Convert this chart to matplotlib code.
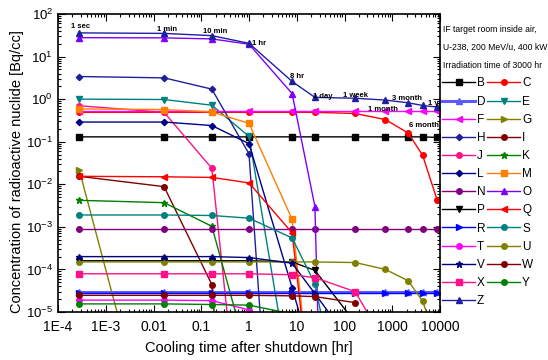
import numpy as np
import matplotlib.pyplot as plt
from matplotlib.ticker import LogLocator, NullFormatter, FixedLocator, FixedFormatter

plt.rcParams['font.family'] = ['Liberation Sans', 'DejaVu Sans']
plt.rcParams['mathtext.default'] = 'regular'

nan = np.nan

# cooling times [hr]: 1 sec, 1 min, 10 min, 1 hr, 8 hr, 1 day, 1 week, 1 month, 3 month, 6 month, 1 yr
hours = np.array([1 / 3600, 1 / 60, 1 / 6, 1, 8, 24, 168, 720, 2160, 4320, 8760])
time_labels = ["1 sec", "1 min", "10 min", "1 hr", "8 hr", "1 day", "1 week",
               "1 month", "3 month", "6 month", "1 yr"]

# concentration [Bq/cc] per nuclide
B = [0.13, 0.13, 0.13, 0.13, 0.13, 0.13, 0.13, 0.13, 0.13, 0.13, 0.126]
C = [0.49, 0.49, 0.49, 0.49, 0.49, 0.49, 0.46, 0.33, 0.16, 0.048, 0.0042]
D = [2.9e-5] * 11
E = [1.0, 0.98, 0.72, 0.133, 1.2e-7, nan, nan, nan, nan, nan, nan]
F = [0.52] * 11
G = [0.022, 7e-10, nan, nan, nan, nan, nan, nan, nan, nan, nan]
H = [3.4, 3.16, 1.72, 0.052, 1.6e-16, nan, nan, nan, nan, nan, nan]
I = [0.0154, 8.8e-3, 4.4e-5, 1e-15, nan, nan, nan, nan, nan, nan, nan]
J = [0.7, 0.49, 0.0237, 1.3e-10, nan, nan, nan, nan, nan, nan, nan]
K = [4.2e-3, 3.7e-3, 1.03e-3, 7e-7, nan, nan, nan, nan, nan, nan, nan]
L = [0.29, 0.29, 0.24, 0.09, 3.7e-5, 5e-7, nan, nan, nan, nan, nan]
M = [0.59, 0.57, 0.5, 0.27, 1.5e-3, 1.7e-8, nan, nan, nan, nan, nan]
N = [8.7e-4] * 11
O = [27.8, 27.5, 26.0, 19.5, 1.35, 0.003, 1e-38, nan, nan, nan, nan]
P = [1.6e-4, 1.6e-4, 1.6e-4, 1.6e-4, 1.5e-4, 9.5e-5, 5.6e-6, nan, nan, nan, nan]
Q = [0.0154, 0.015, 0.0145, 0.0108, 7.2e-4, 1.3e-8, nan, nan, nan, nan, nan]
R = [2.75e-5] * 11
S = [1.9e-3, 1.9e-3, 1.85e-3, 1.6e-3, 5.5e-4, 4.6e-5, 1e-9, nan, nan, nan, nan]
T = [1.9e-5, 1.9e-5, 1.85e-5, 1.12e-5, 3e-6, nan, nan, nan, nan, nan, nan]
U = [1.5e-4, 1.5e-4, 1.5e-4, 1.5e-4, 1.5e-4, 1.5e-4, 1.45e-4, 1.0e-4, 5.4e-5, 1.8e-5, 1.9e-6]
V = [2e-4, 2e-4, 2e-4, 1.9e-4, 1.4e-4, 2.7e-5, 1.4e-6, nan, nan, nan, nan]
W = [2.46e-5, 2.46e-5, 2.46e-5, 2.46e-5, 2.4e-5, 2.3e-5, 1.66e-5, nan, nan, nan, nan]
X = [7.9e-5, 7.9e-5, 7.9e-5, 7.9e-5, 7.5e-5, 6.4e-5, 3e-5, 1.8e-6, nan, nan, nan]
Y = [1.55e-5, 1.55e-5, 1.5e-5, 1.45e-5, 9e-6, nan, nan, nan, nan, nan, nan]
Z = [36, 35, 31, 20.5, 2.6, 1.1, 1.05, 0.95, 0.82, 0.71, 0.65]

names = list("BCDEFGHIJKLMNOPQRSTUVWXYZ")
data = dict(B=B, C=C, D=D, E=E, F=F, G=G, H=H, I=I, J=J, K=K, L=L, M=M, N=N,
            O=O, P=P, Q=Q, R=R, S=S, T=T, U=U, V=V, W=W, X=X, Y=Y, Z=Z)

# colour, marker
styles = {
    "B": ("#000000", "s"), "C": ("#ff0000", "o"), "D": ("#5a5aff", "^"),
    "E": ("#008080", "v"), "F": ("#ff00ff", "<"), "G": ("#808000", ">"),
    "H": ("#1f1f9a", "D"), "I": ("#800000", "o"), "J": ("#ff1088", "o"),
    "K": ("#008000", "*"), "L": ("#00008b", "D"), "M": ("#ff8000", "s"),
    "N": ("#800080", "o"), "O": ("#8000ff", "^"), "P": ("#000000", "v"),
    "Q": ("#ff0000", "<"), "R": ("#0000ff", ">"), "S": ("#008080", "o"),
    "T": ("#ff00ff", "o"), "U": ("#808000", "o"), "V": ("#000080", "*"),
    "W": ("#800000", "o"), "X": ("#ff1088", "s"), "Y": ("#008000", "o"),
    "Z": ("#1f1fa0", "^"),
}

fig = plt.figure(figsize=(5.48, 3.6), dpi=100)
ax = fig.add_axes([58 / 548, 1 - 312 / 360, 382 / 548, 298 / 360])

handles = {}
for n in names:
    c, m = styles[n]
    ms = 5 if m == "*" else (3.2 if m == "D" else 4)
    lw = 2.2 if n == "D" else 1.0
    h, = ax.plot(hours, data[n], color=c, marker=m, ms=ms, lw=lw, label=n)
    handles[n] = h

ax.set_xscale("log")
ax.set_yscale("log")
ax.set_xlim(1e-4, 1e4)
ax.set_ylim(1e-5, 1e2)

xticks = [1e-4, 1e-3, 1e-2, 1e-1, 1, 10, 100, 1000, 10000]
xtick_labels = ["1E-4", "1E-3", "0.01", "0.1", "1", "10", "100", "1000", "10000"]
yticks = [1e-5, 1e-4, 1e-3, 1e-2, 1e-1, 1, 10, 100]
ytick_labels = [r"$10^{-5}$", r"$10^{-4}$", r"$10^{-3}$", r"$10^{-2}$",
                r"$10^{-1}$", r"$10^{0}$", r"$10^{1}$", r"$10^{2}$"]
ax.xaxis.set_major_locator(FixedLocator(xticks))
ax.xaxis.set_major_formatter(FixedFormatter(xtick_labels))
ax.xaxis.set_minor_locator(LogLocator(base=10, subs=np.arange(2, 10), numticks=20))
ax.xaxis.set_minor_formatter(NullFormatter())
ax.yaxis.set_major_locator(FixedLocator(yticks))
ax.yaxis.set_major_formatter(FixedFormatter(ytick_labels))
ax.yaxis.set_minor_locator(LogLocator(base=10, subs=np.arange(2, 10), numticks=20))
ax.yaxis.set_minor_formatter(NullFormatter())

ax.tick_params(which="both", direction="in", top=True, right=True, width=0.8)
ax.tick_params(which="major", length=5)
ax.tick_params(which="minor", length=2.5)
ax.tick_params(axis="x", labelsize=10, pad=6)
ax.tick_params(axis="y", labelsize=9.5)
for sp in ax.spines.values():
    sp.set_linewidth(1.2)

ax.set_xlabel("Cooling time after shutdown [hr]", fontsize=10.5, labelpad=5)
ax.set_ylabel("Concentration of radioactive nuclide [Bq/cc]", fontsize=10.5)
ax.yaxis.set_label_coords(-0.089, 0.471)

# time labels along the top curve (offsets in pixels)
offsets = [(1, 6, "center"), (3, 4, "center"), (3, 4, "center"), (3, 0, "left"),
           (5, 5, "center"), (-2, 1, "left"), (0, 3, "center"), (-2, -9, "center"),
           (-1, 4, "center"), (1, -20, "center"), (-9, 4, "left")]
for t, v, lab, (dx, dy, ha) in zip(hours, Z, time_labels, offsets):
    ax.annotate(lab, (t, v), xytext=(dx, dy), textcoords="offset pixels",
                ha=ha, va="center", fontsize=5.5, fontweight="bold",
                annotation_clip=False, clip_on=True)

# header and legend on the right
head = dict(fontsize=6.2, va="center")
fig.text(443 / 548, 1 - 29 / 360, "IF target room inside air,", **head)
fig.text(443 / 548, 1 - 47 / 360, "U-238, 200 MeV/u, 400 kW", **head)
fig.text(443 / 548, 1 - 65 / 360, "Irradiation time of 3000 hr", **head)

order = names[0::2] + names[1::2]
fig.legend([handles[n] for n in order], order, ncol=2, loc="upper left",
           bbox_to_anchor=(442 / 548, 1 - 77.5 / 360), frameon=False, fontsize=8.5,
           handlelength=2.8, handletextpad=0.15, columnspacing=0.15,
           labelspacing=0.52, borderpad=0, borderaxespad=0)

fig.savefig("out.png", dpi=100)
